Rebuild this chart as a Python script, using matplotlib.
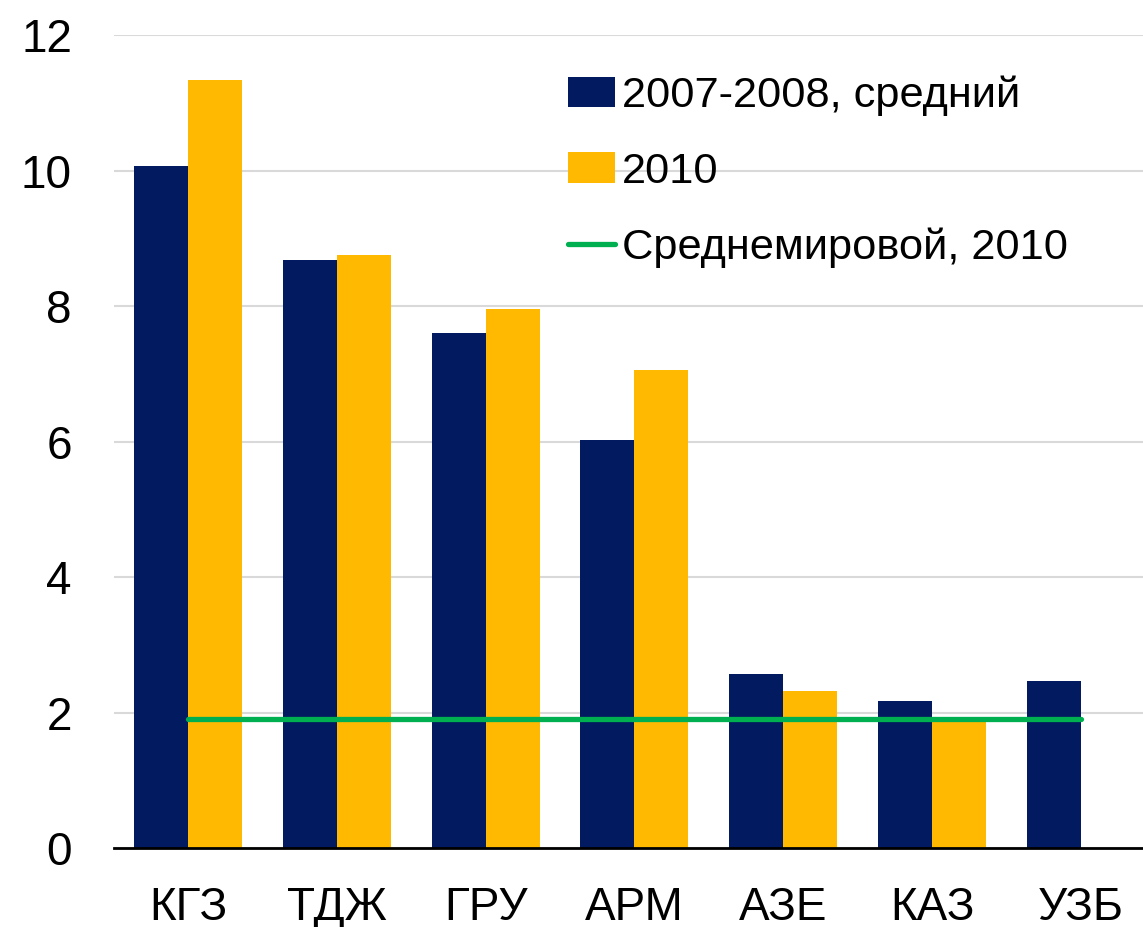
import numpy as np
import matplotlib
matplotlib.use('Agg')
import matplotlib.pyplot as plt

categories = ['КГЗ', 'ТДЖ', 'ГРУ', 'АРМ', 'АЗЕ', 'КАЗ', 'УЗБ']
avg_2007_2008 = [10.07, 8.68, 7.60, 6.02, 2.57, 2.17, 2.46]
val_2010 = [11.34, 8.75, 7.96, 7.06, 2.32, 1.92, np.nan]
world_avg_2010 = 1.9
yticks = [0, 2, 4, 6, 8, 10, 12]

plt.rcParams['font.family'] = ['Liberation Sans', 'DejaVu Sans']

fig = plt.figure(figsize=(11.43, 9.27), dpi=100)
# plot area runs a bit past the right edge of the picture
ax = fig.add_axes([0.0994, 0.0852, 0.9113, 0.877])

x = np.arange(len(categories))
w = 0.363
b1 = ax.bar(x - w/2, avg_2007_2008, w, color='#021A5F', label='2007-2008, средний', zorder=2)
b2 = ax.bar(x + w/2, val_2010, w, color='#FFB900', label='2010', zorder=2)
ln, = ax.plot([x[0], x[-1]], [world_avg_2010, world_avg_2010], color='#00B050', lw=3.8,
              solid_capstyle='round', label='Среднемировой, 2010', zorder=3)

ax.set_xlim(-0.5, len(categories) - 0.5)
ax.set_ylim(0, 12)
ax.set_yticks(yticks)
ax.set_xticks(x)
ax.set_xticklabels(categories)
ax.tick_params(axis='both', length=0, labelsize=33)
ax.tick_params(axis='x', pad=27)
ax.tick_params(axis='y', pad=30)
ax.grid(axis='y', color='#D9D9D9', lw=1.5, zorder=0)
ax.set_axisbelow(True)
for s in ['top', 'right', 'left']:
    ax.spines[s].set_visible(False)
ax.spines['bottom'].set_linewidth(2)
ax.spines['bottom'].set_zorder(4)

ax.legend([b1, b2, ln], [b1.get_label(), b2.get_label(), ln.get_label()],
          loc='upper left', bbox_to_anchor=(0.4815, 0.937), bbox_transform=fig.transFigure,
          frameon=False, fontsize=31.2, handlelength=1.1, handleheight=0.7,
          handletextpad=0.15, labelspacing=0.82, borderaxespad=0)

fig.savefig('out.png', dpi=100)
